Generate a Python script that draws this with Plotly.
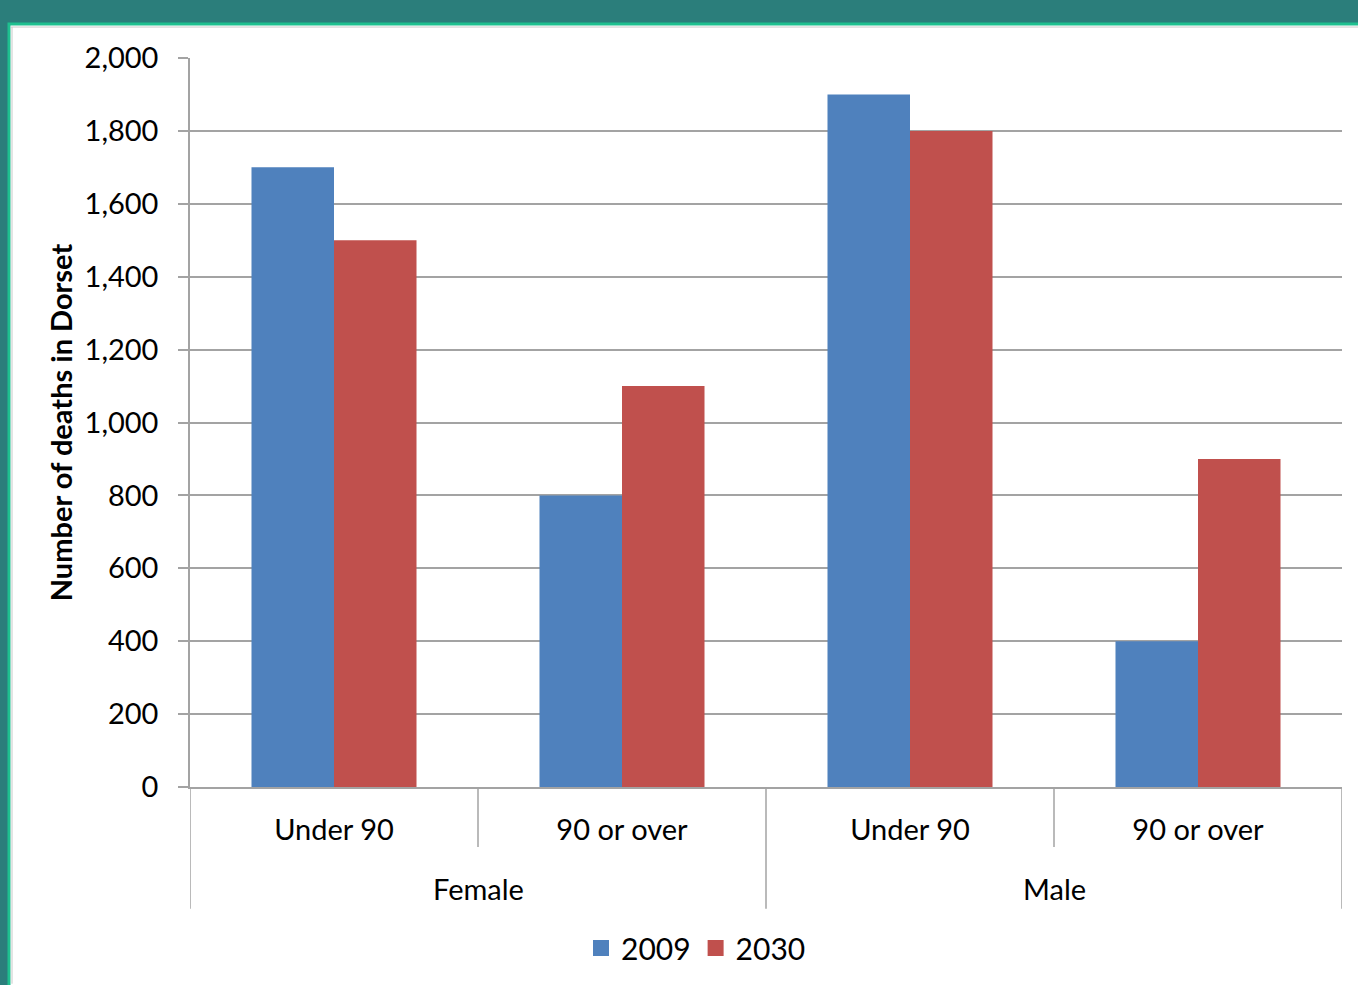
import plotly.graph_objects as go

# ---- data ----
sex = ["Female", "Female", "Male", "Male"]
age_band = ["Under 90", "90 or over", "Under 90", "90 or over"]
deaths_2009 = [1700, 800, 1900, 400]
deaths_2030 = [1500, 1100, 1800, 900]
y_ticks = [0, 200, 400, 600, 800, 1000, 1200, 1400, 1600, 1800, 2000]
y_tick_labels = ["0", "200", "400", "600", "800", "1,000", "1,200", "1,400", "1,600", "1,800", "2,000"]
series_names = ["2009", "2030"]
series_colors = ["#4f81bd", "#c0504d"]

W, H = 1358, 985
L, R, T, B = 190, 16, 58, 197
pw, ph = W - L - R, H - T - B

def px_x(px):
    return (px - L) / pw

def px_y(py):
    return (H - B - py) / ph

FONT = "Lato, Carlito, 'Liberation Sans', sans-serif"
GRID = "#a3a3a3"

xs = list(range(len(age_band)))
fig = go.Figure()
for name, vals, col in zip(series_names, [deaths_2009, deaths_2030], series_colors):
    fig.add_trace(go.Bar(x=xs, y=vals, name=name, showlegend=False,
                         marker=dict(color=col, line=dict(width=0))))
# legend entries (larger square keys)
for name, col in zip(series_names, series_colors):
    fig.add_trace(go.Scatter(x=[None], y=[None], mode="markers", name=name,
                             marker=dict(symbol="square", size=20, color=col)))

shapes = []
# frame: teal background with white panel
shapes.append(dict(type="rect", xref="paper", yref="paper", layer="below",
                   x0=px_x(9), x1=px_x(W + 5), y0=px_y(H + 5), y1=px_y(24),
                   fillcolor="white", line=dict(color="#1ec08f", width=3)))
shapes.append(dict(type="line", xref="paper", yref="paper", layer="below",
                   x0=px_x(11), x1=px_x(W), y0=px_y(27), y1=px_y(27),
                   line=dict(color="#c8c8c8", width=1)))
shapes.append(dict(type="line", xref="paper", yref="paper", layer="below",
                   x0=px_x(12), x1=px_x(12), y0=px_y(27), y1=px_y(H),
                   line=dict(color="#c8c8c8", width=1)))

# category dividers below the axis
outer_bottom = px_y(910)
inner_bottom = px_y(848)
n = len(age_band)
for i in range(n + 1):
    b = i - 0.5
    if i == 0 or i == n or sex[i - 1] != sex[i]:
        y0 = outer_bottom
    else:
        y0 = inner_bottom
    shapes.append(dict(type="line", xref="x", yref="paper", x0=b, x1=b, y0=y0, y1=0,
                       line=dict(color=GRID, width=1.5)))

annotations = []
groups = []
for i, s in enumerate(sex):
    if not groups or groups[-1][0] != s:
        groups.append([s, i, i])
    else:
        groups[-1][2] = i
for s, a, b in groups:
    annotations.append(dict(text=s, x=(a + b) / 2, xref="x", y=px_y(890), yref="paper",
                            showarrow=False, xanchor="center", yanchor="middle",
                            font=dict(family=FONT, size=29, color="#000000")))

fig.update_layout(
    width=W, height=H,
    margin=dict(l=L, r=R, t=T, b=B),
    paper_bgcolor="#2b7e7b",
    plot_bgcolor="white",
    barmode="group", bargap=0.427, bargroupgap=0,
    font=dict(family=FONT, size=29, color="#000000"),
    showlegend=True,
    legend=dict(orientation="h", x=px_x(696), xanchor="center", y=px_y(948), yanchor="middle",
                font=dict(family=FONT, size=30, color="#000000"), itemwidth=30,
                itemsizing="trace",
                bgcolor="rgba(0,0,0,0)", tracegroupgap=0),
    shapes=shapes, annotations=annotations,
    xaxis=dict(range=[-0.5, n - 0.5], tickvals=xs, ticktext=age_band, ticks="",
               showgrid=False, showline=True, linecolor=GRID, linewidth=1.5,
               ticklabelstandoff=16, tickfont=dict(family=FONT, size=29, color="#000000"),
               zeroline=False, fixedrange=True),
    yaxis=dict(range=[0, 2000], tickvals=y_ticks, ticktext=y_tick_labels,
               ticks="outside", ticklen=10, tickcolor=GRID, tickwidth=1.5,
               showgrid=True, gridcolor=GRID, gridwidth=1.5,
               showline=True, linecolor=GRID, linewidth=1.5, zeroline=False,
               ticklabelstandoff=14, tickfont=dict(family=FONT, size=29, color="#000000"),
               title=dict(text="<b>Number of deaths in Dorset</b>", standoff=3,
                          font=dict(family=FONT, size=29, color="#000000"))),
)

fig.write_html("out.html", config={"displayModeBar": False},
               post_script="document.body.style.margin='0';document.body.style.padding='0';")
